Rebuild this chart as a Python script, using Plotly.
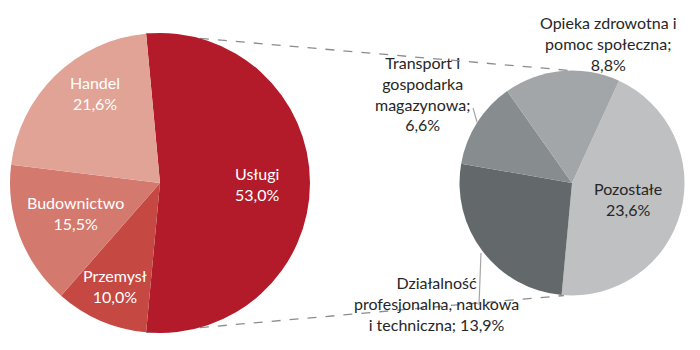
import math
import plotly.graph_objects as go

# ---- data ----
main_labels = ["Usługi", "Przemysł", "Budownictwo", "Handel"]
main_values = [53.0, 10.0, 15.5, 21.6]
main_colors = ["#B31B2B", "#C64842", "#D4796E", "#E1A396"]

sub_labels = ["Pozostałe", "Działalność<br>profesjonalna, naukowa<br>i techniczna",
              "Transport i<br>gospodarka<br>magazynowa", "Opieka zdrowotna i<br>pomoc społeczna"]
sub_values = [23.6, 13.9, 6.6, 8.8]
sub_colors = ["#BEC0C2", "#63686B", "#878C8E", "#A3A6A8"]

W, H = 700, 350
FONT = "Lato"
FS = 16

# geometry (pixels)
L_cx, L_cy, L_r = 160, 183, 150
R_cx, R_cy, R_r = 572, 183, 112.5

main_total = sum(main_values)
start_angle = 90 - (main_values[0] / main_total) * 180  # degrees clockwise from 12 o'clock
sub_rot = 24.7


def dom(cx, cy, r):
    return dict(x=[(cx - r) / W, (cx + r) / W], y=[1 - (cy + r) / H, 1 - (cy - r) / H])


def pt(cx, cy, r, ang):
    a = math.radians(ang)
    return cx + r * math.sin(a), cy - r * math.cos(a)


def fmt(v):
    return f"{v:.1f}".replace(".", ",") + "%"


fig = go.Figure()

x0, y0 = pt(L_cx, L_cy, L_r, start_angle)
x1, y1 = pt(L_cx, L_cy, L_r, start_angle + main_values[0] / main_total * 360)
shapes = [
    dict(type="line", xref="paper", yref="paper", x0=x0 / W, y0=1 - y0 / H,
         x1=(R_cx - 2) / W, y1=1 - (R_cy - R_r) / H,
         line=dict(color="#8C8C8C", width=1.3, dash="dash"), layer="below"),
    dict(type="line", xref="paper", yref="paper", x0=x1 / W, y0=1 - y1 / H,
         x1=(R_cx - 8) / W, y1=1 - (R_cy + R_r) / H,
         line=dict(color="#8C8C8C", width=1.3, dash="dash"), layer="below"),
    # leader lines
    dict(type="line", xref="paper", yref="paper", x0=473 / W, y0=1 - 108 / H, x1=477 / W, y1=1 - 122 / H,
         line=dict(color="#A6A6A6", width=1.2)),
    dict(type="line", xref="paper", yref="paper", x0=481 / W, y0=1 - 253 / H, x1=479 / W, y1=1 - 305 / H,
         line=dict(color="#A6A6A6", width=1.2)),
]

fig.add_trace(go.Pie(
    labels=main_labels, values=main_values, sort=False, direction="clockwise",
    rotation=start_angle, domain=dom(L_cx, L_cy, L_r),
    marker=dict(colors=main_colors, line=dict(color="white", width=0)),
    textinfo="none", hoverinfo="label+value", showlegend=False,
))

fig.add_trace(go.Pie(
    labels=sub_labels, values=sub_values, sort=False, direction="clockwise",
    rotation=sub_rot, domain=dom(R_cx, R_cy, R_r),
    marker=dict(colors=sub_colors, line=dict(color="white", width=0)),
    textinfo="none", hoverinfo="label+value", showlegend=False,
))

# label anchor positions (pixels, centre of text block)
main_label_pos = [(257, 184), (115, 286), (75, 213), (95, 93)]
sub_label_pos = [(628, 199), (436, 303), (422, 93), (608, 43)]

annotations = []
for lab, val, (px, py) in zip(main_labels, main_values, main_label_pos):
    annotations.append(dict(x=px / W, y=1 - py / H, text=lab + "<br>" + fmt(val),
                            font=dict(family=FONT, size=FS, color="white")))
for i, (lab, val, (px, py)) in enumerate(zip(sub_labels, sub_values, sub_label_pos)):
    if i == 0:
        txt = lab + "<br>" + fmt(val)
    elif i == 1:
        txt = lab + "; " + fmt(val)
    else:
        txt = lab + ";<br>" + fmt(val)
    annotations.append(dict(x=px / W, y=1 - py / H, text=txt,
                            font=dict(family=FONT, size=FS, color="#262626")))
for a in annotations:
    a.update(xref="paper", yref="paper", showarrow=False, xanchor="center", yanchor="middle",
             align="center")

fig.update_layout(
    width=W, height=H, margin=dict(l=0, r=0, t=0, b=0),
    paper_bgcolor="white", plot_bgcolor="white",
    shapes=shapes, annotations=annotations,
    font=dict(family=FONT),
)

fig.write_html("out.html")
